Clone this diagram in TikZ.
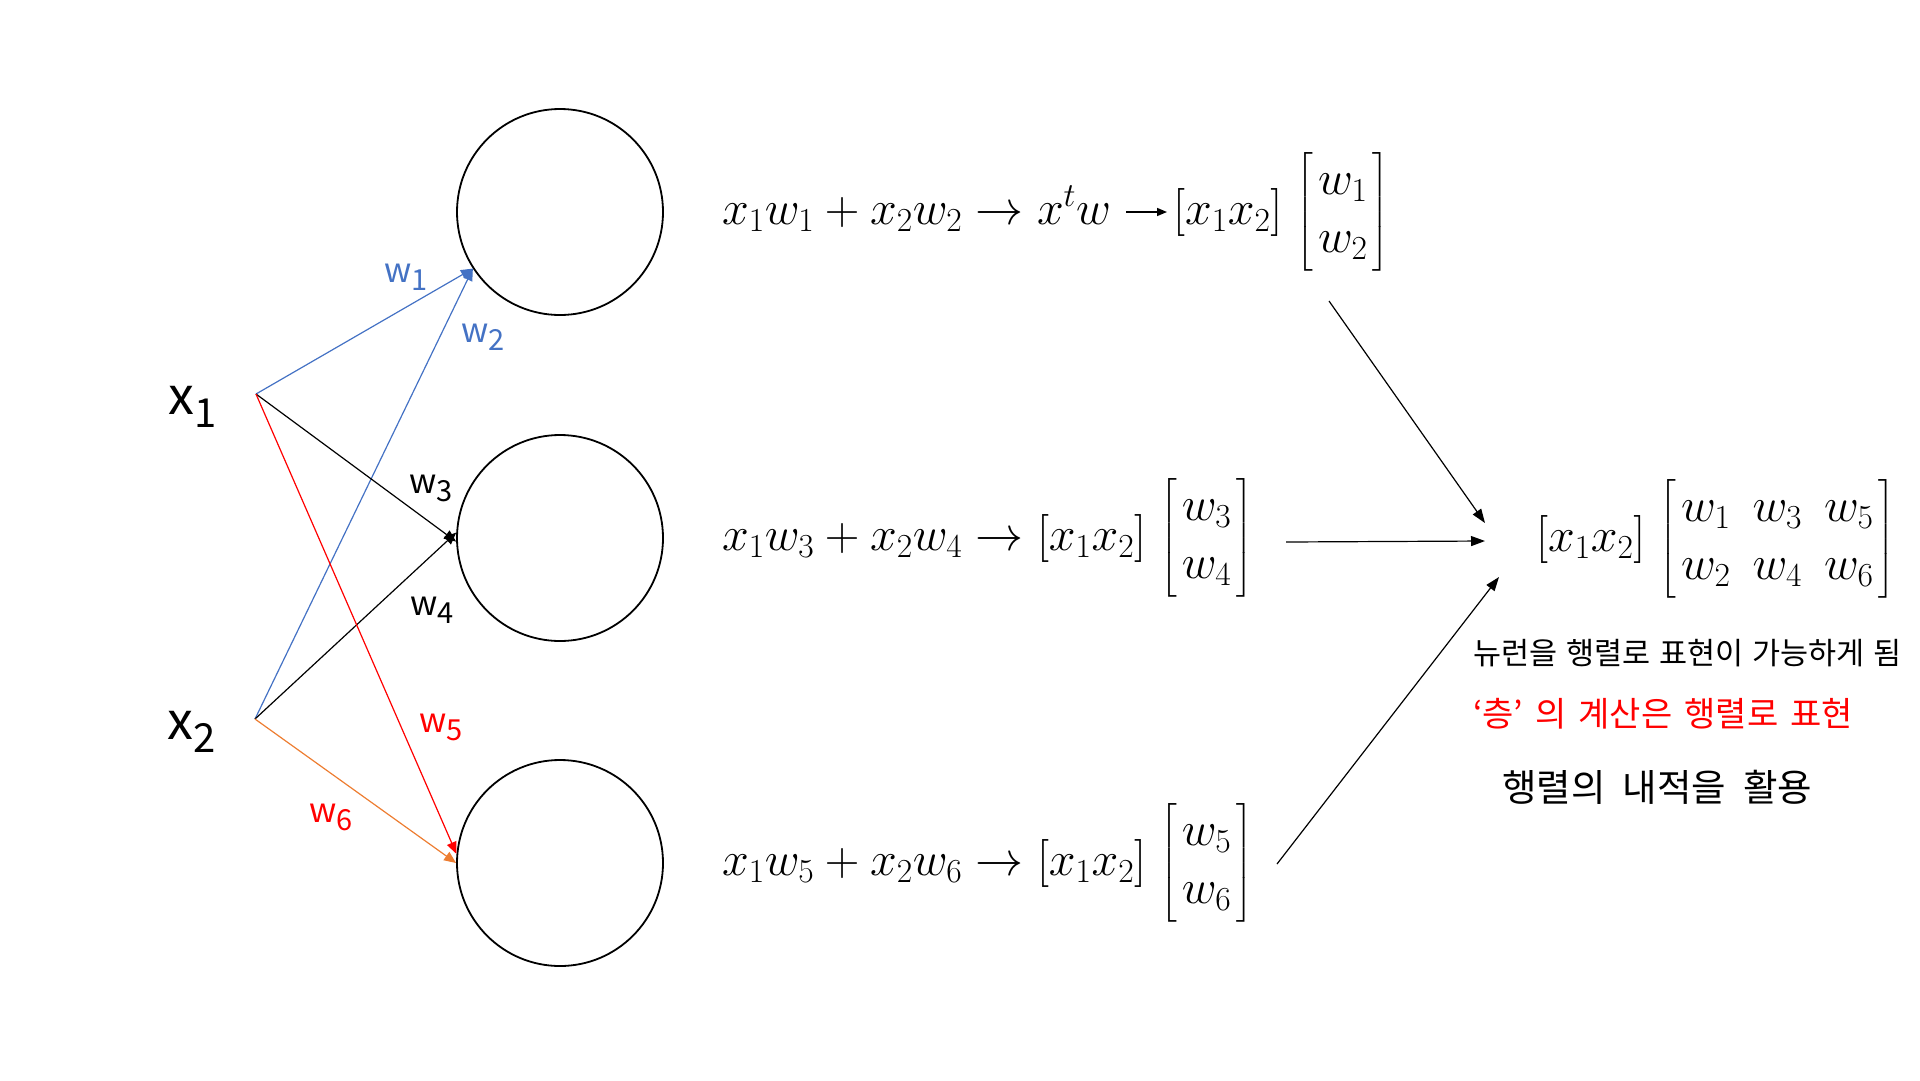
\RequirePackage{fix-cm}
\documentclass[tikz,border=0pt]{standalone}
\usepackage{amsmath}
\usepackage{fontspec}
\newfontfamily\kr{Noto Sans CJK KR}
\usetikzlibrary{arrows.meta,calc}
\definecolor{pblue}{RGB}{68,114,196}
\definecolor{porange}{RGB}{237,125,49}
\definecolor{pred}{RGB}{255,0,0}
\newcommand\wlab[1]{{\kr\fontsize{34}{34}\selectfont w\raisebox{-8pt}{\fontsize{29}{29}\selectfont #1}}}
\newcommand\xlab[1]{{\kr\fontsize{52}{52}\selectfont x\raisebox{-13pt}{\fontsize{40}{40}\selectfont #1}}}
\newcommand\eqsize{\fontsize{48}{58}\selectfont}
\newcommand\krA{\kr\fontsize{30.5}{30.5}\selectfont\spaceskip=9pt\relax}
\newcommand\krB{\kr\fontsize{34}{34}\selectfont\spaceskip=12pt\relax}
\newcommand\krC{\kr\fontsize{37.5}{37.5}\selectfont\spaceskip=17pt\relax}
\newcommand\pd{\hspace{5pt}}
\newcommand\colv[2]{\begin{bmatrix}\pd#1\pd\\ \pd#2\pd\end{bmatrix}}
\begin{document}
\begin{tikzpicture}[x=1pt,y=-1pt,
  neuron/.style={circle, draw, line width=1.8pt, minimum size=206pt, inner sep=0pt},
  wire/.style={line width=1.2pt, -{Triangle[length=12pt,width=10pt]}},
  link/.style={line width=1.2pt, -{Triangle[length=14pt,width=10pt]}},
  eq/.style={anchor=west, inner sep=0pt, font=\eqsize},
  kor/.style={anchor=west, inner sep=0pt}]
\useasboundingbox (0,0) rectangle (1920,1080);
% neurons
\node[neuron] (n1) at (560,212) {};
\node[neuron] (n2) at (560,538) {};
\node[neuron] (n3) at (560,863) {};
% inputs
\coordinate (x1) at (256,394);
\coordinate (x2) at (255,719);
\node (lx1) at (193,407) {\xlab{1}};
\node (lx2) at (192,732) {\xlab{2}};
% weights
\draw[wire, pblue] (x1) -- (n1.213);
\draw[wire, pblue] (x2) -- (n1.213);
\draw[wire, black] (x1) -- (n2.182);
\draw[wire, black] (x2) -- (n2.177);
\draw[wire, pred] (x1) -- (n3.175);
\draw[wire, porange] (x2) -- (n3.180);
\node[text=pblue] (lw1) at (406,277) {\wlab{1}};
\node[text=pblue] (lw2) at (483,337) {\wlab{2}};
\node[text=black] (lw3) at (431,488) {\wlab{3}};
\node[text=black] (lw4) at (432,610) {\wlab{4}};
\node[text=pred] (lw5) at (441,727) {\wlab{5}};
\node[text=pred] (lw6) at (331,817) {\wlab{6}};
% equations
\node[eq] (e1b) at (1173,212) {$[x_1x_2]\hspace{6pt}\colv{w_1}{w_2}$};
\node[anchor=base west, inner sep=0pt, font=\eqsize] (e1a) at (722,224) {$x_1w_1+x_2w_2 \rightarrow x^t w$};
\draw[line width=1.5pt, -{Triangle[length=10pt,width=8pt]}] ($(e1a.base east)+(15,-12)$) -- ($(e1b.west)+(-6,0)$);
\node[eq] (e2) at (722,538) {$x_1w_3+x_2w_4 \rightarrow [x_1x_2]\hspace{6pt}\colv{w_3}{w_4}$};
\node[eq] (e3) at (722,863) {$x_1w_5+x_2w_6 \rightarrow [x_1x_2]\hspace{6pt}\colv{w_5}{w_6}$};
\node[eq] (rm) at (1536,539) {\setlength\arraycolsep{11pt}$[x_1x_2]\hspace{6pt}\begin{bmatrix}\pd w_1 & w_3 & w_5\pd\\ \pd w_2 & w_4 & w_6\pd\end{bmatrix}$};
% links to combined matrix
\coordinate (s1) at (1329,301);
\coordinate (s2) at (1286,542);
\coordinate (s3) at (1277,864);
\coordinate (t1) at (1485,523);
\coordinate (t2) at (1485,541);
\coordinate (t3) at (1499,577);
\draw[link] (s1) -- (t1);
\draw[link] (s2) -- (t2);
\draw[link] (s3) -- (t3);
% texts
\node[kor, font=\krA] (k1) at (1473,653) {뉴런을 행렬로 표현이 가능하게 됨};
\node[kor, font=\krB, text=pred] (k2) at (1473,714) {‘층’ 의 계산은 행렬로 표현};
\node[kor, font=\krC] (k3) at (1502,787) {행렬의 내적을 활용};
\end{tikzpicture}
\end{document}
